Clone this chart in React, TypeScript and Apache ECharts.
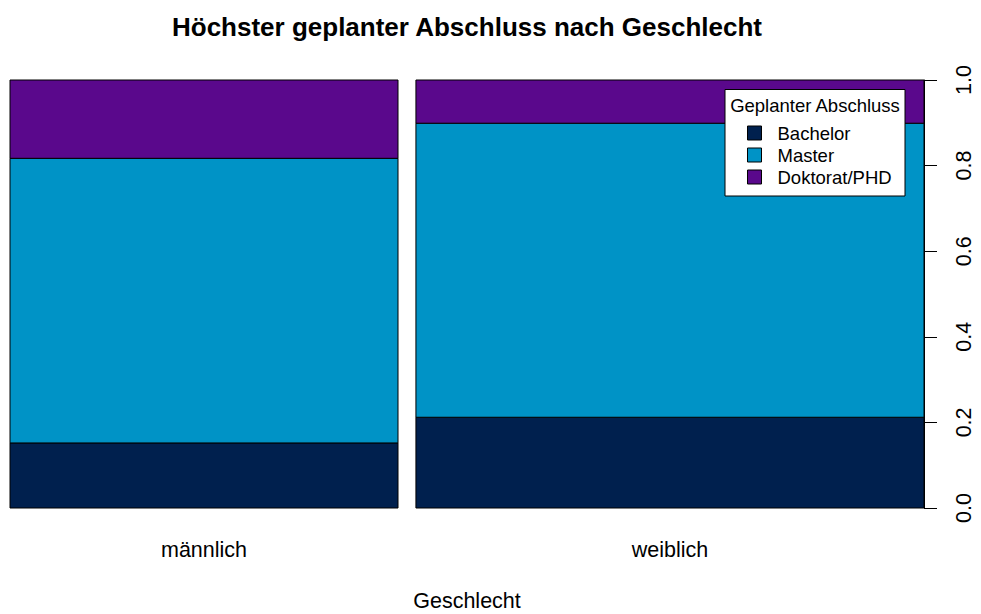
import { useEffect, useRef } from "react";
import * as echarts from "echarts";

const chartTitle = "Höchster geplanter Abschluss nach Geschlecht";
const xAxisName = "Geschlecht";
const legendTitle = "Geplanter Abschluss";
const groups = ["männlich", "weiblich"];
const groupShares = [0.433, 0.567];
const degrees = ["Bachelor", "Master", "Doktorat/PHD"];
const bachelorShares = [0.152, 0.212];
const masterShares = [0.665, 0.687];
const doktoratShares = [0.183, 0.101];
const degreeColors = ["#00204E", "#0093C6", "#5A088C"];
const groupGap = 0.02;

const FONT = "'Liberation Sans', Arial, Helvetica, sans-serif";

export default function App() {
  const ref = useRef<HTMLDivElement>(null);

  useEffect(() => {
    if (!ref.current) return;
    const chart = echarts.init(ref.current, undefined, { renderer: "svg" });

    // x extents of each group column (spineplot widths)
    const x0: number[] = [];
    const x1: number[] = [];
    let cursor = 0;
    groupShares.forEach((w, i) => {
      x0.push(cursor);
      x1.push(cursor + w);
      cursor += w + (i < groupShares.length - 1 ? groupGap : 0);
    });
    const xMax = cursor;
    const centers = x0.map((a, i) => (a + x1[i]) / 2);

    const shareLists = [bachelorShares, masterShares, doktoratShares];
    const below = groups.map(() => 0);
    const series = degrees.map((name, k) => {
      const data = groups.map((_, i) => {
        const y0 = below[i];
        const y1 = y0 + shareLists[k][i];
        below[i] = y1;
        return [x0[i], x1[i], y0, y1];
      });
      return {
        type: "custom",
        name,
        z: 2,
        encode: { x: [0, 1], y: [2, 3] },
        itemStyle: { color: degreeColors[k], borderColor: "#000", borderWidth: 1 },
        data,
        renderItem: (_params: any, api: any) => {
          const p0 = api.coord([api.value(0), api.value(3)]);
          const p1 = api.coord([api.value(1), api.value(2)]);
          return {
            type: "rect",
            shape: { x: p0[0], y: p0[1], width: p1[0] - p0[0], height: p1[1] - p0[1] },
            style: { fill: degreeColors[k], stroke: "#000", lineWidth: 1 },
          };
        },
      };
    });

    chart.setOption({
      animation: false,
      textStyle: { fontFamily: FONT },
      title: {
        text: chartTitle,
        left: 172,
        top: 14,
        padding: 0,
        textStyle: { fontFamily: FONT, fontSize: 26, fontWeight: "bold", color: "#000" },
      },
      grid: {
        left: 10,
        right: 57,
        top: 80,
        bottom: 106,
        containLabel: false,
        outerBoundsMode: "none",
      },
      xAxis: {
        type: "value",
        min: 0,
        max: xMax,
        axisLine: { show: false, onZero: false },
        axisTick: { show: false },
        splitLine: { show: false },
        axisLabel: {
          customValues: centers,
          margin: 31,
          fontSize: 21.5,
          color: "#000",
          fontFamily: FONT,
          formatter: (v: number) => {
            const i = centers.findIndex((c) => Math.abs(c - v) < 1e-6);
            return i >= 0 ? groups[i] : "";
          },
        },
        name: xAxisName,
        nameLocation: "middle",
        nameGap: 82,
        nameTextStyle: { fontSize: 21.5, lineHeight: 21.5, color: "#000", fontFamily: FONT },
      },
      yAxis: {
        type: "value",
        position: "right",
        min: 0,
        max: 1,
        interval: 0.2,
        axisLine: { show: true, onZero: false, lineStyle: { color: "#000", width: 1 } },
        axisTick: { show: true, length: 13, lineStyle: { color: "#000", width: 1 } },
        splitLine: { show: false },
        axisLabel: {
          rotate: 90,
          margin: 29,
          fontSize: 21.5,
          color: "#000",
          fontFamily: FONT,
          formatter: (v: number) => v.toFixed(1),
        },
      },
      legend: {
        data: degrees,
        orient: "vertical",
        left: 747,
        top: 123.5,
        itemWidth: 14,
        itemHeight: 14,
        itemGap: 3,
        padding: 0,
        icon: "rect",
        selectedMode: false,
        z: 6,
        itemStyle: { borderColor: "#000", borderWidth: 1 },
        textStyle: { fontSize: 18.5, color: "#000", fontFamily: FONT, padding: [0, 0, 0, 11] },
      },
      graphic: [
        {
          type: "rect",
          z: 3,
          shape: { x: 725, y: 89.5, width: 180, height: 106.5 },
          style: { fill: "#fff", stroke: "#000", lineWidth: 1 },
        },
        {
          type: "text",
          z: 5,
          x: 815,
          y: 105,
          style: {
            text: legendTitle,
            fontSize: 18.5,
            fontFamily: FONT,
            fill: "#000",
            align: "center",
            verticalAlign: "middle",
          },
        },
      ],
      series,
    });

    return () => chart.dispose();
  }, []);

  return (
    <div
      ref={ref}
      style={{ position: "fixed", left: 0, top: 0, width: 981, height: 614, background: "#fff" }}
    />
  );
}
